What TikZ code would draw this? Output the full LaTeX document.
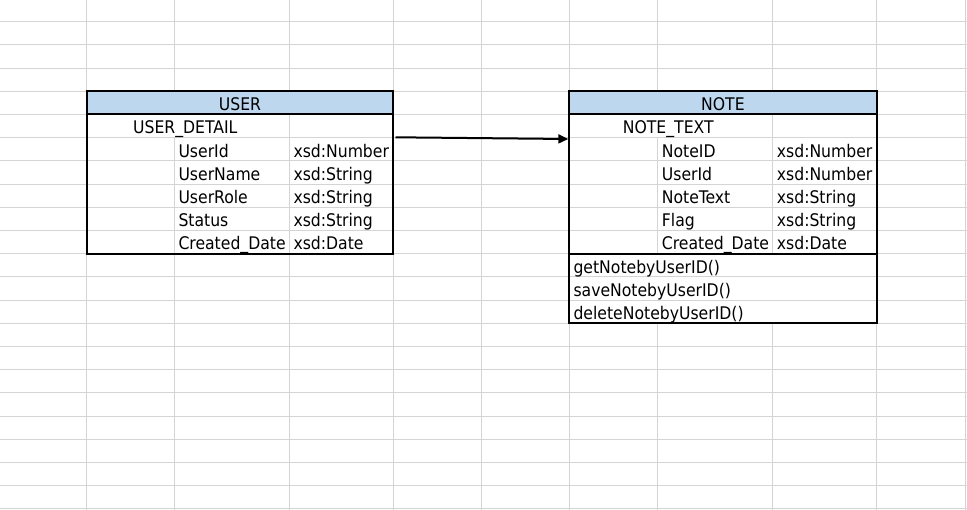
\documentclass[tikz,border=0pt]{standalone}
\usepackage{fontspec}
\setmainfont{DejaVu Sans Condensed}
\usetikzlibrary{arrows.meta}
\definecolor{gridgray}{HTML}{D4D4D4}
\definecolor{headblue}{HTML}{BDD7EE}
\begin{document}
\begin{tikzpicture}[x=1pt,y=-1pt,
  gridline/.style={draw=gridgray,line width=1pt},
  tborder/.style={draw=black,line width=2pt},
  cell/.style={anchor=base west,inner sep=0pt,font=\fontsize{17.4pt}{20pt}\selectfont},
  headtxt/.style={anchor=base,inner sep=0pt,font=\fontsize{17.4pt}{20pt}\selectfont},
  link/.style={line width=2pt,-{Triangle[length=10pt,width=9pt]}}]
\useasboundingbox (0,0) rectangle (967,510);
\fill[white] (0,0) rectangle (967,510);
% spreadsheet grid
\foreach \x in {86.7,174.3,289.3,393.3,481.7,569.3,657.3,772.5,876.5,965}
  \draw[gridline] (\x,0) -- (\x,510);
\foreach \k in {0,...,21}{
  \pgfmathsetmacro{\yy}{21.7+23.2*\k}
  \draw[gridline] (0,\yy) -- (967,\yy);
}
% USER table
\fill[white] (86.7,91.3) rectangle (393.3,253.7);
\fill[headblue] (86.7,91.3) rectangle (393.3,114.5);
\foreach \yy in {137.7,160.9,184.1,207.3,230.5}
  \draw[gridline] (86.7,\yy) -- (393.3,\yy);
\draw[gridline] (174.3,137.7) -- (174.3,253.7);
\draw[gridline] (289.3,114.5) -- (289.3,253.7);
\draw[tborder] (86.7,91.3) rectangle (393.3,253.7);
\draw[tborder] (86.7,114.5) -- (393.3,114.5);
% NOTE table
\fill[white] (569.3,91.3) rectangle (876.5,323.3);
\fill[headblue] (569.3,91.3) rectangle (876.5,114.5);
\foreach \yy in {137.7,160.9,184.1,207.3,230.5,276.9,300.1}
  \draw[gridline] (569.3,\yy) -- (876.5,\yy);
\draw[gridline] (657.3,137.7) -- (657.3,253.7);
\draw[gridline] (772.5,114.5) -- (772.5,253.7);
\draw[tborder] (569.3,91.3) rectangle (876.5,323.3);
\draw[tborder] (569.3,114.5) -- (876.5,114.5);
\draw[tborder] (569.3,253.7) -- (876.5,253.7);
% USER texts
\node[headtxt] (utitle) at (240,110.2) {USER};
\node[cell] (udetail) at (133,133.9) {USER\_DETAIL};
\node[cell] (uid) at (178.3,157.1) {UserId};
\node[cell] (uidt) at (293.3,157.1) {xsd:Number};
\node[cell] (uname) at (178.3,180.3) {UserName};
\node[cell] (unamet) at (293.3,180.3) {xsd:String};
\node[cell] (urole) at (178.3,203.5) {UserRole};
\node[cell] (uroler) at (293.3,203.5) {xsd:String};
\node[cell] (ustat) at (178.3,226.7) {Status};
\node[cell] (ustatt) at (293.3,226.7) {xsd:String};
\node[cell] (udate) at (178.3,249.9) {Created\_Date};
\node[cell] (udatet) at (293.3,249.9) {xsd:Date};
% NOTE texts
\node[headtxt] (ntitle) at (722.9,110.2) {NOTE};
\node[cell] (ndetail) at (622.7,133.9) {NOTE\_TEXT};
\node[cell] (nid) at (661.7,157.1) {NoteID};
\node[cell] (nidt) at (776.7,157.1) {xsd:Number};
\node[cell] (nuid) at (661.7,180.3) {UserId};
\node[cell] (nuidt) at (776.7,180.3) {xsd:Number};
\node[cell] (ntext) at (661.7,203.5) {NoteText};
\node[cell] (ntextt) at (776.7,203.5) {xsd:String};
\node[cell] (nflag) at (661.7,226.7) {Flag};
\node[cell] (nflagt) at (776.7,226.7) {xsd:String};
\node[cell] (ndate) at (661.7,249.9) {Created\_Date};
\node[cell] (ndatet) at (776.7,249.9) {xsd:Date};
\node[cell] (mget) at (573.3,273.1) {getNotebyUserID()};
\node[cell] (msave) at (573.3,296.3) {saveNotebyUserID()};
\node[cell] (mdel) at (573.3,319.5) {deleteNotebyUserID()};
% connector
\coordinate (from) at (395.5,137.3);
\coordinate (to) at (568.3,139);
\draw[link] (from) -- (to);
\end{tikzpicture}
\end{document}
